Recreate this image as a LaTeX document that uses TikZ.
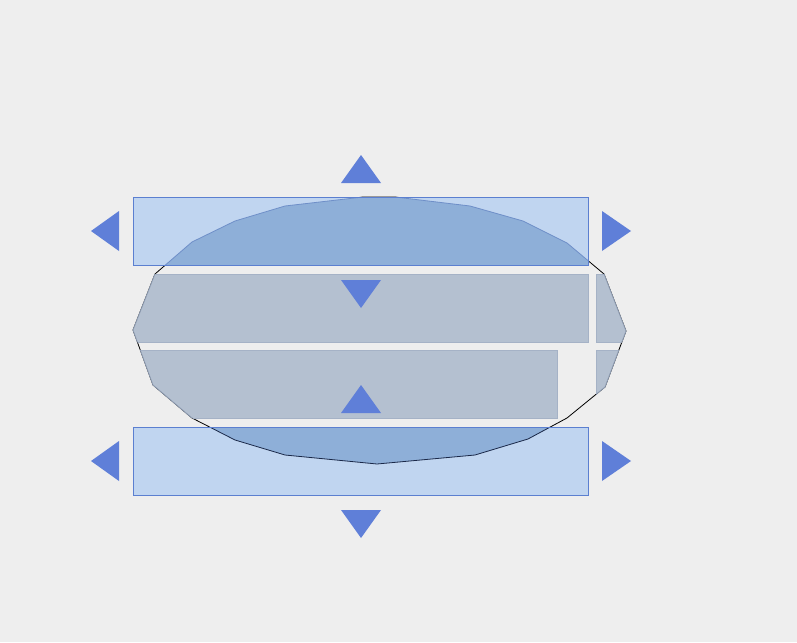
\documentclass[tikz,border=0pt]{standalone}
\begin{document}
\begin{tikzpicture}[x=1pt,y=-1pt,
  arrowtri/.style={fill=arrowblue,draw=none},
  grayband/.style={fill=bandgray,draw=bandedge,line width=0.8pt},
  bluebar/.style={fill=barlight}]
\definecolor{bg}{HTML}{EEEEEE}
\definecolor{arrowblue}{HTML}{5F7FD8}
\definecolor{bandgray}{HTML}{B4C0D0}
\definecolor{bandedge}{HTML}{A5B2C6}
\definecolor{barlight}{HTML}{C0D5F0}
\definecolor{bardark}{HTML}{8EAFD8}
\definecolor{baredge}{HTML}{5B7FD0}
\definecolor{polyblue}{HTML}{6F8FC8}
\definecolor{polynavy}{HTML}{1A2848}
\definecolor{polygray}{HTML}{8E9CB2}
\fill[bg] (0,0) rectangle (797,642);
\useasboundingbox (0,0) rectangle (797,642);
\def\poly{(133,330) -- (155,274) -- (192,242) -- (235,221) -- (285,206) -- (363,197) -- (395,197) -- (470,206) -- (523,221) -- (567,243) -- (604,274) -- (626,331) -- (605,387) -- (567,418) -- (528,439) -- (475,455) -- (377,464) -- (285,455) -- (235,440) -- (192,418) -- (153,385) -- cycle}
% outline of the polygon
\draw[black,line width=0.8pt] \poly;
% gray bands clipped to polygon
\begin{scope}
  \clip \poly;
  \draw[grayband] (120,274) rectangle (588,342);
  \draw[grayband] (596,274) rectangle (640,342);
  \draw[grayband] (120,350) rectangle (557,418);
  \draw[grayband] (596,350) rectangle (640,418);
\end{scope}
\begin{scope}
  \clip (120,274) rectangle (588,342) (596,274) rectangle (640,342)
        (120,350) rectangle (557,418) (596,350) rectangle (640,418);
  \draw[polygray,line width=0.8pt] \poly;
\end{scope}
% blue bars
\foreach \yt/\yb/\lc in {197/265/polyblue,427/495/polynavy}{
  \fill[bluebar] (133,\yt) rectangle (588,\yb);
  \begin{scope}
    \clip (133,\yt) rectangle (588,\yb);
    \fill[bardark] \poly;
    \draw[\lc,line width=0.8pt] \poly;
  \end{scope}
  \draw[baredge,line width=0.8pt] (133,\yt) rectangle (588,\yb);
}
% arrows
\fill[arrowtri] (361,155) -- (381,183) -- (341,183) -- cycle;
\fill[arrowtri] (361,308) -- (381,280) -- (341,280) -- cycle;
\fill[arrowtri] (361,385) -- (381,413) -- (341,413) -- cycle;
\fill[arrowtri] (361,538) -- (381,510) -- (341,510) -- cycle;
\fill[arrowtri] (91,231) -- (119,211) -- (119,251) -- cycle;
\fill[arrowtri] (91,461) -- (119,441) -- (119,481) -- cycle;
\fill[arrowtri] (631,231) -- (602,211) -- (602,251) -- cycle;
\fill[arrowtri] (631,461) -- (602,441) -- (602,481) -- cycle;
\end{tikzpicture}
\end{document}
